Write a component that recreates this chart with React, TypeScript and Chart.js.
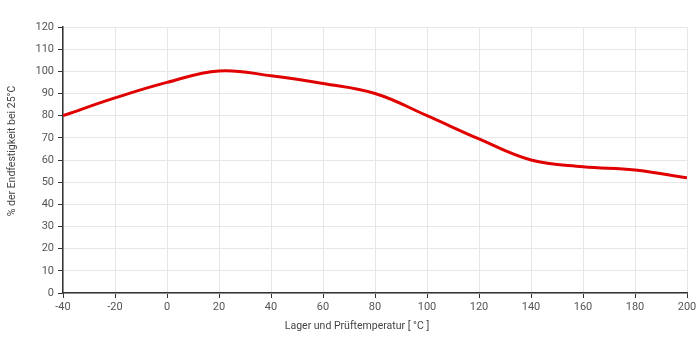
import React, { useEffect, useRef } from "react";
import { Chart, registerables } from "chart.js";

Chart.register(...registerables);

const temperatures = [-40, -20, 0, 20, 40, 60, 80, 100, 120, 140, 160, 180, 200];
const strengthPct = [80, 88, 95, 100.2, 98, 94.5, 90, 80, 69.5, 60, 57, 55.5, 52];
const xTitle = "Lager und Prüftemperatur [ °C ]";
const yTitle = "% der Endfestigkeit bei 25°C";

const FONT = "Roboto, 'Noto Sans', sans-serif";

const axisTitles = {
  id: "axisTitles",
  afterDraw(chart: any) {
    const { ctx, chartArea } = chart;
    ctx.save();
    ctx.fillStyle = "#444";
    ctx.font = `10.5px ${FONT}`;
    ctx.textAlign = "center";
    ctx.textBaseline = "middle";
    const cx = (chartArea.left + chartArea.right) / 2 - 18;
    ctx.fillText(xTitle, cx, chartArea.bottom + 33);
    const cy = (chartArea.top + chartArea.bottom) / 2 - 9;
    ctx.translate(12, cy);
    ctx.rotate(-Math.PI / 2);
    ctx.fillText(yTitle, 0, 0);
    ctx.restore();
  },
};

export default function App() {
  const ref = useRef<HTMLCanvasElement | null>(null);
  useEffect(() => {
    if (!ref.current) return;
    const chart = new Chart(ref.current, {
      type: "line",
      data: {
        datasets: [
          {
            data: temperatures.map((t, i) => ({ x: t, y: strengthPct[i] })),
            borderColor: "#e00000",
            borderWidth: 3,
            pointRadius: 0,
            tension: 0.4,
            fill: false,
          },
        ],
      },
      plugins: [axisTitles],
      options: {
        animation: false,
        responsive: false,
        maintainAspectRatio: false,
        layout: { padding: { top: 27, right: 13, left: 0, bottom: 0 } },
        plugins: { legend: { display: false }, tooltip: { enabled: false } },
        scales: {
          x: {
            type: "linear",
            min: -40,
            max: 200,
            ticks: { stepSize: 20, color: "#555", font: { family: FONT, size: 11 }, padding: 3 },
            grid: { color: "#e6e6e6", tickColor: "#333", tickLength: 5 },
            border: { color: "#333", width: 1.5 },
            afterFit: (s: any) => { s.height = 57; },
          },
          y: {
            min: 0,
            max: 120,
            ticks: { stepSize: 10, color: "#555", font: { family: FONT, size: 11 }, padding: 4 },
            grid: { color: "#e6e6e6", tickColor: "#333", tickLength: 5 },
            border: { color: "#333", width: 1.5 },
            afterFit: (s: any) => { s.width = 63; },
          },
        },
      },
    });
    return () => chart.destroy();
  }, []);
  return (
    <div style={{ position: "fixed", left: 0, top: 0, width: 700, height: 350, background: "#fff" }}>
      <canvas ref={ref} width={700} height={350} style={{ display: "block" }} />
    </div>
  );
}
